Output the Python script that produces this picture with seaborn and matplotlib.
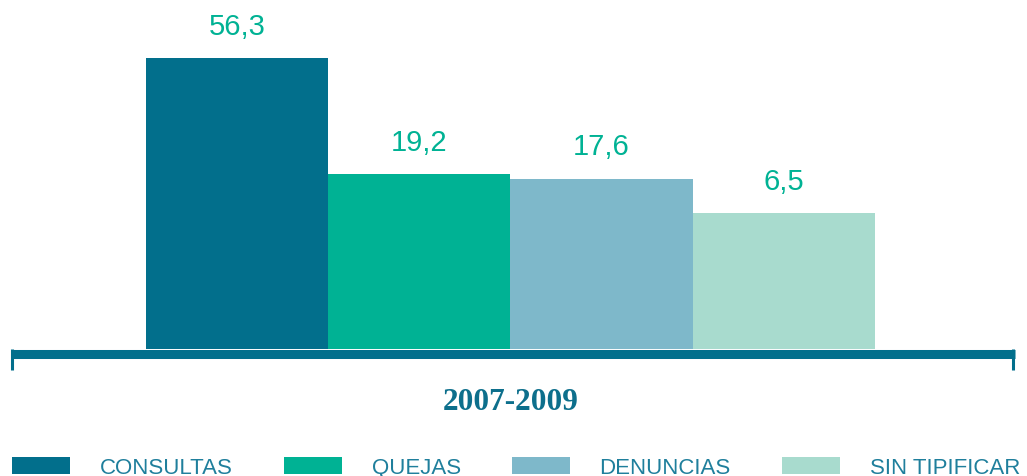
import matplotlib
matplotlib.use("Agg")
import matplotlib.pyplot as plt
from matplotlib.lines import Line2D
import numpy as np
import pandas as pd
import seaborn as sns

# ---- data ----
periodo = ["2007-2009"]
categorias = ["CONSULTAS", "QUEJAS", "DENUNCIAS", "SIN TIPIFICAR"]
valores = [56.3, 19.2, 17.6, 6.5]
etiquetas = ["56,3", "19,2", "17,6", "6,5"]
colores = ["#026F8C", "#00B294", "#7EB8CA", "#A8DBCE"]

# axis floor of the original chart (bars rise from this value)
BASE = -37.2
YMAX = 75.3

sns.set_theme(style="white")
plt.rcParams["font.family"] = ["Liberation Sans", "DejaVu Sans"]

df = pd.DataFrame({
    "periodo": periodo * len(categorias),
    "tipo": categorias,
    "valor": valores,
})
df["altura"] = df["valor"] - BASE  # measured from the axis floor

W, H, DPI = 1027, 477, 100
fig = plt.figure(figsize=(W / DPI, H / DPI), dpi=DPI)
ax = fig.add_axes([12 / W, 127 / H, (1015 - 12) / W, 350 / H])

sns.barplot(data=df, x="periodo", y="altura", hue="tipo", hue_order=categorias,
            palette=colores, width=0.8, linewidth=0,
            saturation=1, ax=ax, legend=True)

ax.set_ylim(0, YMAX - BASE)
ax.set_xlim(-0.547, 0.554)
ax.set_xlabel("")
ax.set_ylabel("")
ax.set_yticks([])
for s in ax.spines.values():
    s.set_visible(False)

# category tick label
ax.tick_params(axis="x", length=0, pad=27.5)
for t in ax.get_xticklabels():
    t.set_fontfamily(["Liberation Serif", "DejaVu Serif"])
    t.set_fontweight("bold")
    t.set_fontsize(22.5)
    t.set_color("#0D6F8C")

# value labels
for bar, lab in zip(ax.patches[:len(categorias)], etiquetas):
    x = bar.get_x() + bar.get_width() / 2
    y = bar.get_y() + bar.get_height()
    ax.annotate(lab, (x, y), xytext=(0, 17.3), textcoords="offset points",
                ha="center", va="baseline", fontsize=21, color="#00B294")

# baseline bar with end ticks
px = 1 / 350.0
ax.add_line(Line2D([0, 1], [-4.5 * px, -4.5 * px], transform=ax.transAxes,
                   color="#026F8C", linewidth=6.5, solid_capstyle="butt", clip_on=False))
for xx in (0.0, 1001 / 1003):
    ax.add_line(Line2D([xx, xx], [0, -21 * px], transform=ax.transAxes,
                       color="#026F8C", linewidth=2.2, solid_capstyle="butt", clip_on=False))

# legend
sns.move_legend(ax, loc="lower left", bbox_to_anchor=(12 / W, -2 / H),
                bbox_transform=fig.transFigure, ncol=4, frameon=False, title=None,
                fontsize=16, handlelength=2.6, handleheight=0.77, handletextpad=1.35,
                columnspacing=2.3, borderpad=0, borderaxespad=0)
for t in ax.get_legend().get_texts():
    t.set_color("#1F7F9C")

fig.savefig("out.png", dpi=DPI)
